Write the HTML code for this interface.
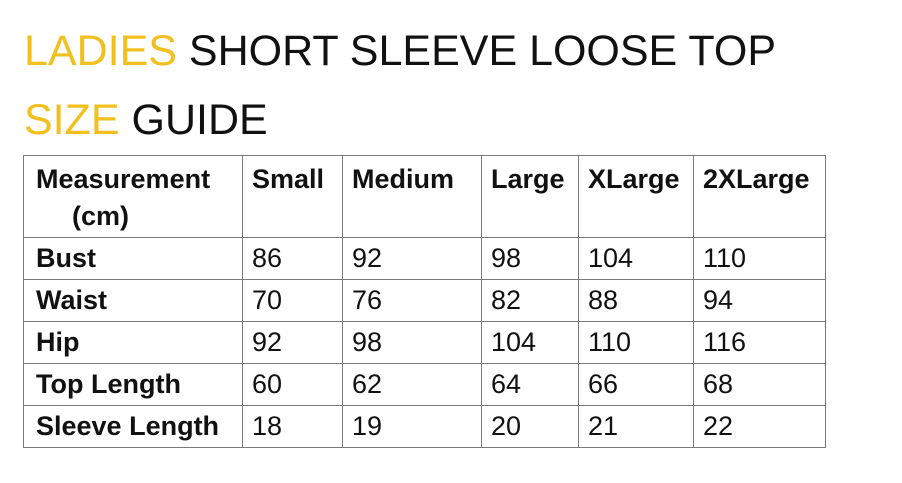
<!DOCTYPE html>
<html><head><meta charset="utf-8"><style>
html,body{margin:0;padding:0;background:#fff;}
body{width:902px;height:483px;position:relative;overflow:hidden;font-family:"Liberation Sans",Arial,sans-serif;color:#111;}
.t{position:absolute;left:24px;font-size:43px;white-space:nowrap;line-height:1;}
.y{color:#F2C01E;}
table{position:absolute;left:23px;top:155px;border-collapse:collapse;table-layout:fixed;}
td{border:1.5px solid #7a7a7a;padding:0 0 0 9px;font-size:27px;height:41px;vertical-align:middle;white-space:nowrap;overflow:hidden;}
td.h{font-weight:bold;vertical-align:top;padding-top:5px;height:76px;line-height:37px;}
td.r{font-weight:bold;padding-left:12px;}
</style></head><body>
<div class="t" style="top:30px"><span class="y">LADIES</span> SHORT SLEEVE LOOSE TOP</div>
<div class="t" style="top:99px"><span class="y">SIZE</span> GUIDE</div>
<table>
<colgroup><col style="width:219px"><col style="width:100px"><col style="width:139px"><col style="width:97px"><col style="width:115px"><col style="width:132px"></colgroup>
<tr>
<td class="h" style="padding-left:12px">Measurement<br><span style="padding-left:36px">(cm)</span></td>
<td class="h">Small</td>
<td class="h">Medium</td>
<td class="h">Large</td>
<td class="h">XLarge</td>
<td class="h">2XLarge</td></tr>
<tr><td class="r">Bust</td><td>86</td><td>92</td><td>98</td><td>104</td><td>110</td></tr>
<tr><td class="r">Waist</td><td>70</td><td>76</td><td>82</td><td>88</td><td>94</td></tr>
<tr><td class="r">Hip</td><td>92</td><td>98</td><td>104</td><td>110</td><td>116</td></tr>
<tr><td class="r">Top Length</td><td>60</td><td>62</td><td>64</td><td>66</td><td>68</td></tr>
<tr><td class="r">Sleeve Length</td><td>18</td><td>19</td><td>20</td><td>21</td><td>22</td></tr>
</table>
</body></html>
